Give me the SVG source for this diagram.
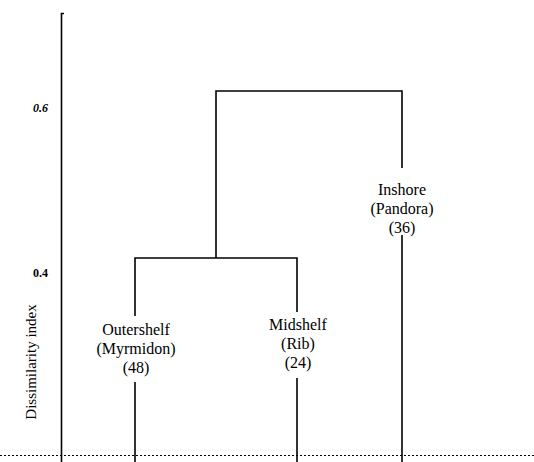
<svg xmlns="http://www.w3.org/2000/svg" width="534" height="462" viewBox="0 0 534 462">
  <style>
    .ln { stroke: #000; stroke-width: 1.6; fill: none; }
    .lbl { font-family: 'Liberation Serif', 'DejaVu Serif', 'Times New Roman', serif; font-size: 16px; fill: #000; text-anchor: middle; }
    .tick { font-family: 'Liberation Serif', 'DejaVu Serif', 'Times New Roman', serif; font-size: 12px; font-weight: bold; fill: #000; }
  </style>
  <rect width="534" height="462" fill="#fff"/>

  <!-- Axis -->
  <g id="axis">
    <path class="ln" d="M61.5,462 V13.5 H64"/>
    <text class="tick" x="33" y="112" font-style="italic">0.6</text>
    <text class="tick" x="33" y="277">0.4</text>
    <text class="lbl" transform="translate(36,362) rotate(-90)" style="font-size:15px">Dissimilarity index</text>
    <line x1="0" y1="455.5" x2="534" y2="455.5" stroke="#000" stroke-width="1.2" stroke-dasharray="2 2"/>
  </g>

  <!-- Connectors -->
  <g id="connectors">
    <path class="ln" d="M135,316 V258 H297 V312"/>
    <path class="ln" d="M216,258 V91 H402 V168"/>
    <path class="ln" d="M135,382 V462"/>
    <path class="ln" d="M297,378 V462"/>
    <path class="ln" d="M402,235 V462"/>
  </g>

  <g id="node-outershelf">
    <text class="lbl" x="136" y="335">Outershelf</text>
    <text class="lbl" x="136" y="354">(Myrmidon)</text>
    <text class="lbl" x="136" y="373">(48)</text>
  </g>
  <g id="node-midshelf">
    <text class="lbl" x="298" y="330">Midshelf</text>
    <text class="lbl" x="298" y="349">(Rib)</text>
    <text class="lbl" x="298" y="368">(24)</text>
  </g>
  <g id="node-inshore">
    <text class="lbl" x="402" y="195">Inshore</text>
    <text class="lbl" x="402" y="214">(Pandora)</text>
    <text class="lbl" x="402" y="233">(36)</text>
  </g>
</svg>
